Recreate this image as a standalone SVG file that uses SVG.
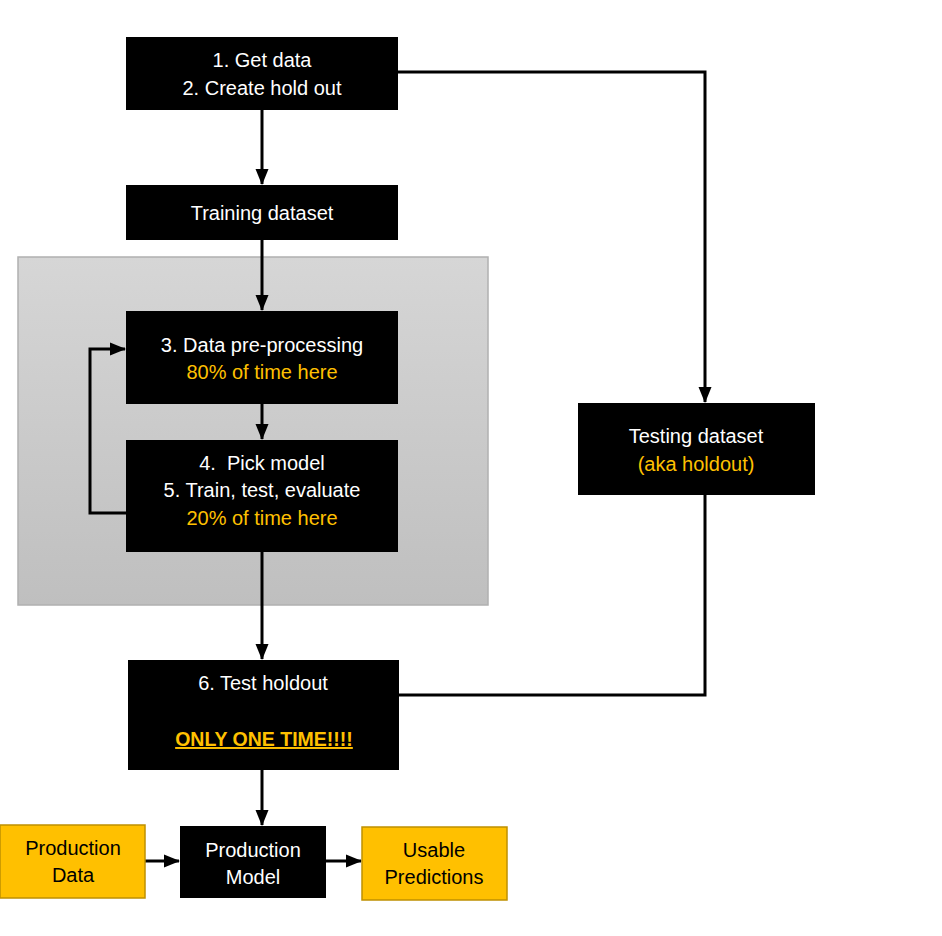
<svg xmlns="http://www.w3.org/2000/svg" width="942" height="936" viewBox="0 0 942 936">
<style>
.box{fill:#000;}
.ybox{fill:#ffc000;stroke:#bf9000;stroke-width:1.5;}
text{font-family:"Liberation Sans",Arial,sans-serif;font-size:20px;text-anchor:middle;}
.w{fill:#fff;}
.o{fill:#ffc000;}
.k{fill:#000;}
.c{fill:none;stroke:#000;stroke-width:3;stroke-linejoin:miter;}
</style>
<defs>
<linearGradient id="g" x1="0" y1="0" x2="0" y2="1">
<stop offset="0" stop-color="#d6d6d6"/>
<stop offset="1" stop-color="#bfbfbf"/>
</linearGradient>
<marker id="a" markerUnits="userSpaceOnUse" markerWidth="16" markerHeight="16" viewBox="0 0 16 16" refX="15" refY="8" orient="auto">
<path d="M0,1.5 L16,8 L0,14.5 Z" fill="#000"/>
</marker>
</defs>
<rect width="942" height="936" fill="#fff"/>
<rect id="panel" x="18" y="257" width="470" height="348" fill="url(#g)" stroke="#b0b0b0" stroke-width="1.5"/>
<g id="connectors">
<path class="c" d="M262,110 V184" marker-end="url(#a)"/>
<path class="c" d="M262,240 V310" marker-end="url(#a)"/>
<path class="c" d="M262,404 V439" marker-end="url(#a)"/>
<path class="c" d="M262,552 V659" marker-end="url(#a)"/>
<path class="c" d="M262,770 V825" marker-end="url(#a)"/>
<path class="c" d="M398,72 H705 V402" marker-end="url(#a)"/>
<path class="c" d="M705,495 V695 H398"/>
<path class="c" d="M126,513 H90 V349 H125" marker-end="url(#a)"/>
<path class="c" d="M145,861 H179" marker-end="url(#a)"/>
<path class="c" d="M326,861 H361" marker-end="url(#a)"/>
</g>
<g id="n1"><rect class="box" x="126" y="37" width="272" height="73"/>
<text class="w" x="262" y="67">1. Get data</text>
<text class="w" x="262" y="95">2. Create hold out</text></g>
<g id="n2"><rect class="box" x="126" y="185" width="272" height="55"/>
<text class="w" x="262" y="220">Training dataset</text></g>
<g id="n3"><rect class="box" x="126" y="311" width="272" height="93"/>
<text class="w" x="262" y="352">3. Data pre-processing</text>
<text class="o" x="262" y="379">80% of time here</text></g>
<g id="n4"><rect class="box" x="126" y="440" width="272" height="112"/>
<text class="w" x="262" y="470">4.&#160; Pick model</text>
<text class="w" x="262" y="497">5. Train, test, evaluate</text>
<text class="o" x="262" y="525">20% of time here</text></g>
<g id="n5"><rect class="box" x="578" y="403" width="237" height="92"/>
<text class="w" x="696" y="443">Testing dataset</text>
<text class="o" x="696" y="471">(aka holdout)</text></g>
<g id="n6"><rect class="box" x="128" y="660" width="271" height="110"/>
<text class="w" x="263" y="690">6. Test holdout</text>
<text class="o" x="264" y="746" style="font-weight:bold;text-decoration:underline;font-size:19.5px">ONLY ONE TIME!!!!</text></g>
<g id="n7"><rect class="ybox" x="0" y="825" width="145" height="73"/>
<text class="k" x="73" y="855">Production</text>
<text class="k" x="73" y="882">Data</text></g>
<g id="n8"><rect class="box" x="180" y="826" width="146" height="72"/>
<text class="w" x="253" y="857">Production</text>
<text class="w" x="253" y="884">Model</text></g>
<g id="n9"><rect class="ybox" x="362" y="827" width="145" height="73"/>
<text class="k" x="434" y="857">Usable</text>
<text class="k" x="434" y="884">Predictions</text></g>
</svg>
